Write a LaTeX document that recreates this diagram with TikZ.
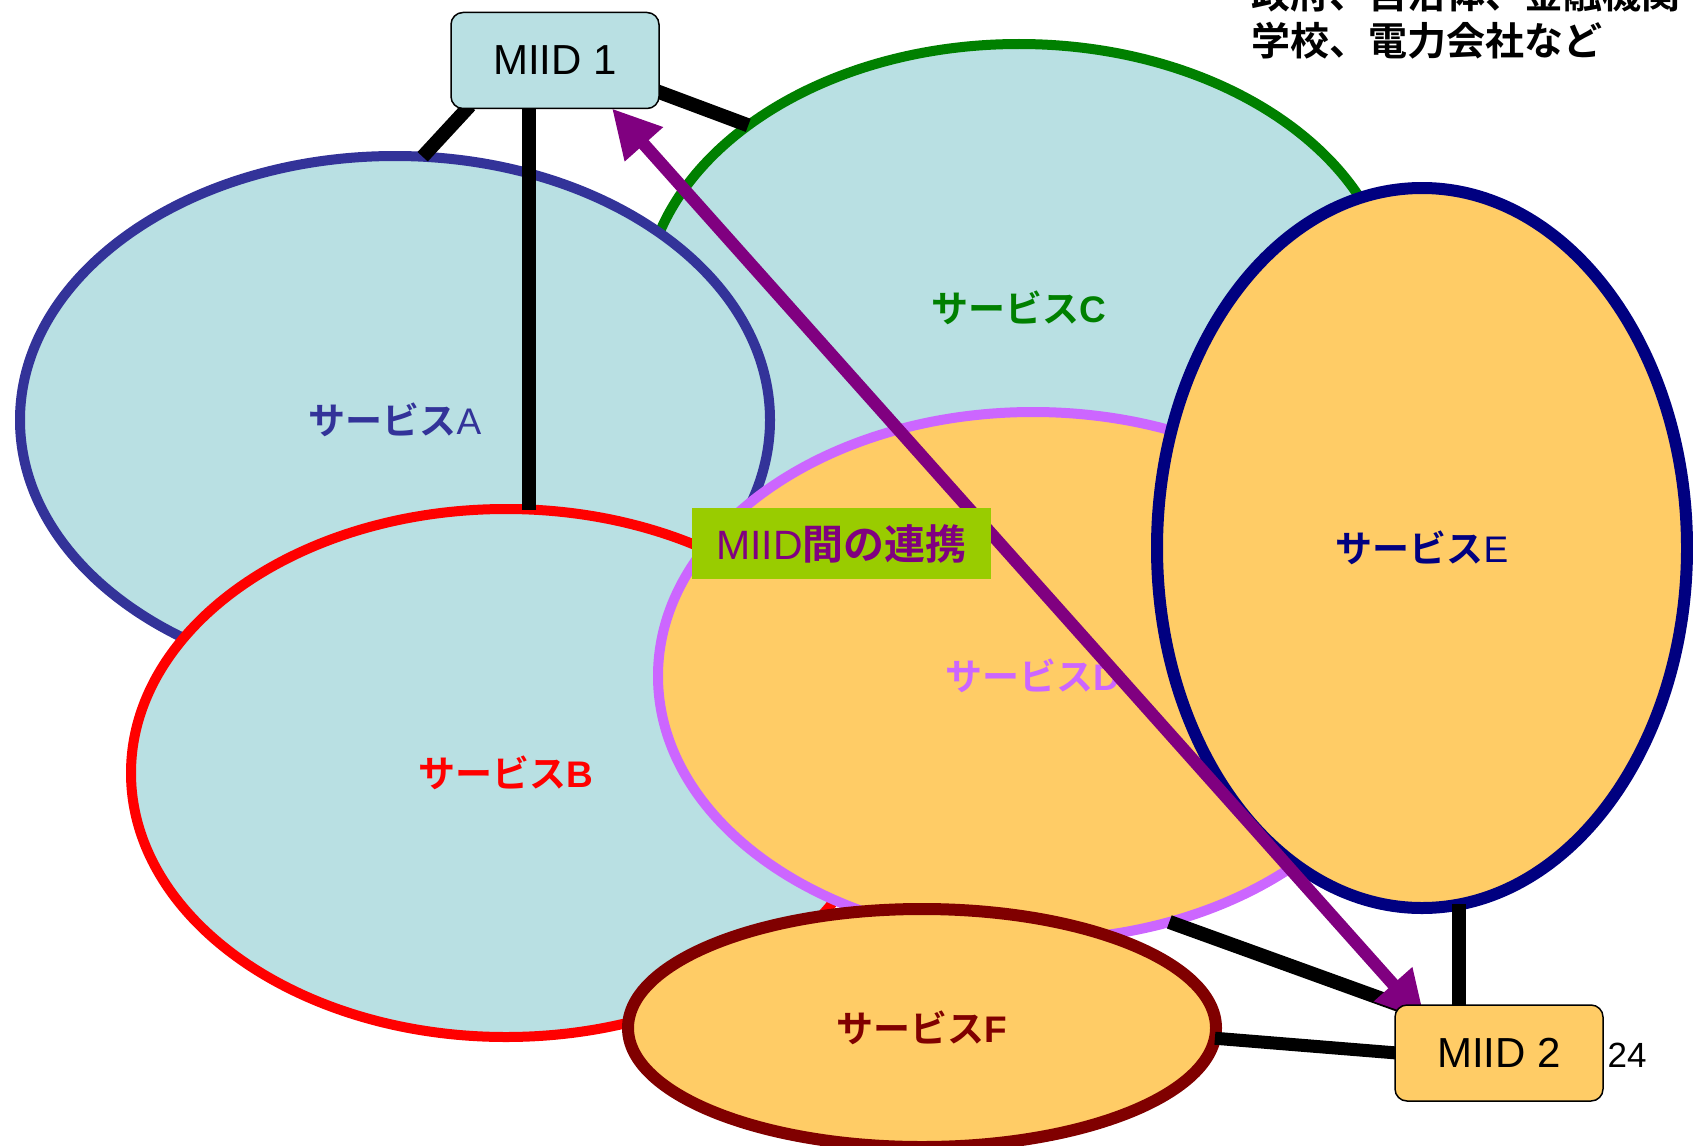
\documentclass[tikz,border=0pt]{standalone}
\usepackage{fontspec}
\setmainfont{Liberation Sans}
\newfontfamily\jp{Noto Sans CJK JP}[BoldFont={Noto Sans CJK JP Bold}]
\usetikzlibrary{shapes.geometric,arrows.meta}
\definecolor{svcblue}{HTML}{B9E0E3}
\definecolor{svcorange}{HTML}{FFCC66}
\definecolor{colA}{HTML}{333399}
\definecolor{colB}{HTML}{FF0000}
\definecolor{colC}{HTML}{008000}
\definecolor{colD}{HTML}{CC66FF}
\definecolor{colE}{HTML}{000080}
\definecolor{colF}{HTML}{800000}
\definecolor{linkpurple}{HTML}{800080}
\definecolor{tagbg}{HTML}{99CC00}
\newcommand{\jb}[1]{{\jp\bfseries #1}}
\begin{document}
\begin{tikzpicture}[x=1pt,y=-1pt,
  svc/.style={ellipse, draw, line width=10pt, inner sep=0pt, outer sep=0pt,
    minimum width=750pt, minimum height=528pt, font=\fontsize{37}{44}\selectfont},
  link/.style={line width=14pt, draw=black},
  miid/.style={draw=black, line width=1.5pt, rounded corners=12pt, inner sep=0pt,
    outer sep=0pt, minimum width=208pt, minimum height=96pt, font=\fontsize{42}{48}\selectfont},
  arrowlink/.style={{Triangle[length=48pt,width=48pt]}-{Triangle[length=48pt,width=48pt]},
    line width=12.5pt, draw=linkpurple, fill=linkpurple},
  tagbox/.style={fill=tagbg, inner sep=0pt, minimum width=299pt, minimum height=71pt,
    text=linkpurple, font=\fontsize{41}{46}\selectfont},
  orgtext/.style={anchor=base west, font=\fontsize{39}{44}\selectfont\jp\bfseries}
]
\useasboundingbox (0,0) rectangle (1693,1145);
\clip (0,0) rectangle (1693,1145);
% service ellipses (back to front)
\node[svc, draw=colC, fill=svcblue, text=colC] (C) at (1019,308) {\jb{サービス}\textbf{C}};
\node[svc, draw=colA, fill=svcblue, text=colA] (A) at (395,420) {\jb{サービス}A};
\node[svc, draw=colB, fill=svcblue, text=colB] (B) at (506,773) {\jb{サービス}\textbf{B}};
\node[svc, draw=colD, fill=svcorange, text=colD] (D) at (1033,676) {\jb{サービス}\textbf{D}};
\node[svc, draw=colE, fill=svcorange, text=colE, line width=12pt,
  minimum width=530pt, minimum height=720pt] (E) at (1422,548) {\jb{サービス}E};
\node[svc, draw=colF, fill=svcorange, text=colF, line width=12pt,
  minimum width=588pt, minimum height=238pt] (F) at (922,1028) {\jb{サービス}\textbf{F}};
% MIID box positions
\path (555,60.5) coordinate (m1c) (1499,1053) coordinate (m2c);
\path node[minimum width=208pt, minimum height=96pt, inner sep=0pt, outer sep=0pt] (m1) at (m1c) {}
      node[minimum width=208pt, minimum height=96pt, inner sep=0pt, outer sep=0pt] (m2) at (m2c) {};
% links
\draw[link] ([xshift=19pt,yshift=3pt]m1.south west) -- (A.84);
\draw[link] (B.85 |- m1.south) -- (B.85);
\draw[link] ([xshift=-4pt,yshift=-30pt]m1.east) -- (C.146);
\draw[link] (D.299) -- ([xshift=4pt]m2.north west);
\draw[link, line width=13pt] (F.358) -- ([xshift=2pt]m2.west);
\draw[link] (E.276) -- (E.276 |- m2.north);
% inter-MIID link
\draw[arrowlink] ([xshift=57pt]m1.south) -- ([xshift=30pt,yshift=-15pt]m2.north west);
% label box
\node[tagbox] (tag) at (841.5,543.5) {MIID\jb{間の連携}};
% MIID boxes on top
\node[miid, fill=svcblue] (m1box) at (m1c) {MIID 1};
\node[miid, fill=svcorange] (m2box) at (m2c) {MIID 2};
\node[font=\fontsize{35}{40}\selectfont] (page) at (1627,1055) {24};
% organisations text
\node[orgtext] (org1) at (1248,9) {政府、自治体、金融機関};
\node[orgtext] (org2) at (1248,56) {学校、電力会社など};
\end{tikzpicture}
\end{document}
